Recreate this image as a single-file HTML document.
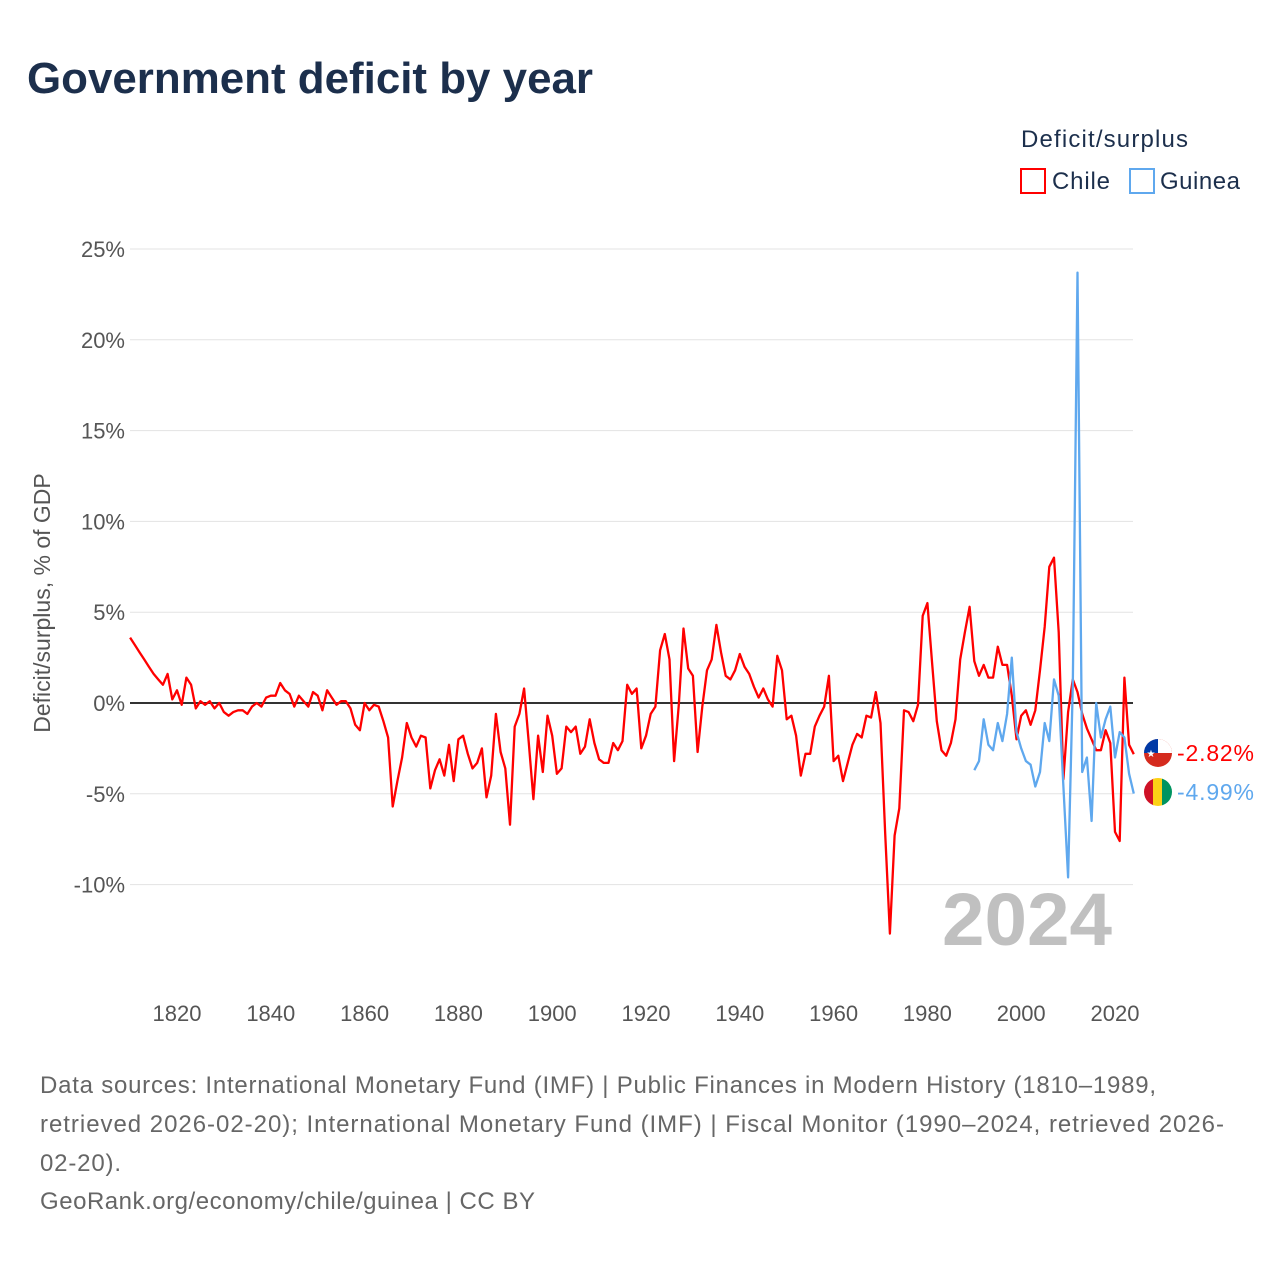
<!DOCTYPE html>
<html><head><meta charset="utf-8"><style>
body{margin:0;background:#fff;font-family:"Liberation Sans",sans-serif;}
svg text{font-family:"Liberation Sans",sans-serif;}
</style></head><body>
<svg id="chart" width="1280" height="1280" viewBox="0 0 1280 1280" xmlns="http://www.w3.org/2000/svg">
<text x="27" y="93" font-size="44" font-weight="bold" fill="#1c2f4c" textLength="566" lengthAdjust="spacingAndGlyphs">Government deficit by year</text>
<text x="1021" y="147" font-size="24" fill="#1c2f4c" textLength="167">Deficit/surplus</text>
<g><rect x="1021" y="169" width="24" height="24" fill="none" stroke="#f00" stroke-width="2"/><text x="1052" y="189" font-size="24" fill="#1c2f4c" textLength="58">Chile</text></g>
<g><rect x="1130" y="169" width="24" height="24" fill="none" stroke="#5fa8ee" stroke-width="2"/><text x="1160" y="189" font-size="24" fill="#1c2f4c" textLength="80">Guinea</text></g>
<text transform="translate(50,603) rotate(-90)" text-anchor="middle" font-size="23" fill="#555">Deficit/surplus, % of GDP</text>
<g id="grid"></g><g id="xt"></g>
<text x="1112" y="945" text-anchor="end" font-size="74" font-weight="bold" fill="#c0c0c0" textLength="170" lengthAdjust="spacingAndGlyphs">2024</text>
<g id="series"></g>
<g>
<circle cx="1158" cy="753" r="14" fill="#d52b1e"/><path d="M1144 753 A14 14 0 0 1 1172 753 Z" fill="#fff"/><path d="M1144 753 A14 14 0 0 1 1158 739 L1158 753 Z" fill="#0039a6"/><text x="1151" y="757" font-size="10" fill="#fff" text-anchor="middle">★</text>
<text x="1177" y="761" font-size="23" fill="#f00" textLength="77">-2.82%</text></g>
<g>
<clipPath id="gc"><circle cx="1158" cy="792" r="14"/></clipPath>
<g clip-path="url(#gc)"><rect x="1144" y="778" width="10" height="28" fill="#ce1126"/><rect x="1153" y="778" width="10" height="28" fill="#fcd116"/><rect x="1162" y="778" width="10" height="28" fill="#009460"/></g>
<text x="1177" y="800" font-size="23" fill="#5fa8ee" textLength="77">-4.99%</text></g>
<g font-size="24" fill="#666">
<text x="40" y="1093" textLength="1116">Data sources: International Monetary Fund (IMF) | Public Finances in Modern History (1810–1989,</text>
<text x="40" y="1132" textLength="1184">retrieved 2026-02-20); International Monetary Fund (IMF) | Fiscal Monitor (1990–2024, retrieved 2026-</text>
<text x="40" y="1171" textLength="81">02-20).</text>
<text x="40" y="1209" textLength="495">GeoRank.org/economy/chile/guinea | CC BY</text>
</g>
</svg>
<script>
const yTicks=[-10,-5,0,5,10,15,20,25];
const yTickLabels=["-10%","-5%","0%","5%","10%","15%","20%","25%"];
const xTicks=[1820,1840,1860,1880,1900,1920,1940,1960,1980,2000,2020];
const chileStart=1810;
const chileValues=[3.6,3.2,2.8,2.4,2.0,1.6,1.3,1.0,1.6,0.2,0.7,-0.1,1.4,1.0,-0.3,0.1,-0.1,0.1,-0.3,0,-0.5,-0.7,-0.5,-0.4,-0.4,-0.6,-0.2,0,-0.2,0.3,0.4,0.4,1.1,0.7,0.5,-0.2,0.4,0.1,-0.2,0.6,0.4,-0.4,0.7,0.3,-0.1,0.1,0.1,-0.3,-1.2,-1.5,0,-0.4,-0.1,-0.2,-1.0,-1.9,-5.7,-4.3,-3.0,-1.1,-1.9,-2.4,-1.8,-1.9,-4.7,-3.7,-3.1,-4.0,-2.3,-4.3,-2.0,-1.8,-2.8,-3.6,-3.3,-2.5,-5.2,-4.0,-0.6,-2.7,-3.6,-6.7,-1.3,-0.6,0.8,-2.2,-5.3,-1.8,-3.8,-0.7,-1.8,-3.9,-3.6,-1.3,-1.6,-1.3,-2.8,-2.4,-0.9,-2.2,-3.1,-3.3,-3.3,-2.2,-2.6,-2.1,1.0,0.5,0.8,-2.5,-1.8,-0.6,-0.2,2.9,3.8,2.4,-3.2,-0.1,4.1,1.9,1.5,-2.7,-0.2,1.8,2.4,4.3,2.8,1.5,1.3,1.8,2.7,2.0,1.6,0.9,0.3,0.8,0.2,-0.2,2.6,1.8,-0.9,-0.7,-1.8,-4.0,-2.8,-2.8,-1.3,-0.7,-0.2,1.5,-3.2,-2.9,-4.3,-3.3,-2.3,-1.7,-1.9,-0.7,-0.8,0.6,-1.1,-7.2,-12.7,-7.3,-5.8,-0.4,-0.5,-1.0,-0.1,4.8,5.5,2.2,-1.0,-2.6,-2.9,-2.2,-0.9,2.4,3.9,5.3,2.3,1.5,2.1,1.4,1.4,3.1,2.1,2.1,0.4,-2.0,-0.7,-0.4,-1.2,-0.4,1.8,4.2,7.5,8.0,3.9,-4.2,-0.5,1.3,0.6,-0.6,-1.4,-2.0,-2.6,-2.6,-1.5,-2.2,-7.1,-7.6,1.4,-2.3,-2.82];
const guineaStart=1990;
const guineaValues=[-3.7,-3.2,-0.9,-2.3,-2.6,-1.1,-2.1,-0.6,2.5,-1.6,-2.5,-3.2,-3.4,-4.6,-3.8,-1.1,-2.1,1.3,0.4,-4.6,-9.6,1.0,23.7,-3.8,-3.0,-6.5,0,-1.9,-0.9,-0.2,-3.0,-1.6,-1.9,-3.9,-4.99];
const NS="http://www.w3.org/2000/svg";
const X=yr=>177+(yr-1820)*4.69;
const Y=v=>703-v*18.16;
const grid=document.getElementById('grid');
yTicks.forEach((t,i)=>{
 const l=document.createElementNS(NS,'line');
 
 
 l.setAttribute('x1',130);l.setAttribute('x2',1133);l.setAttribute('y1',Y(t));l.setAttribute('y2',Y(t));
 l.setAttribute('stroke',t===0?'#333':'#e3e3e3');l.setAttribute('stroke-width',t===0?2:1);
 grid.appendChild(l);
 const tx=document.createElementNS(NS,'text');
 
 
 tx.setAttribute('x',125);tx.setAttribute('y',Y(t)+8);tx.setAttribute('text-anchor','end');
 tx.setAttribute('font-size','22');tx.setAttribute('fill','#555');tx.textContent=yTickLabels[i];
 grid.appendChild(tx);
});
const xt=document.getElementById('xt');
xTicks.forEach(t=>{
 const tx=document.createElementNS(NS,'text');
 
 
 tx.setAttribute('x',X(t));tx.setAttribute('y',1021);tx.setAttribute('text-anchor','middle');
 tx.setAttribute('font-size','22');tx.setAttribute('fill','#555');tx.textContent=t;
 xt.appendChild(tx);
});
const ser=document.getElementById('series');
function line(start,vals,color,name){
 const p=document.createElementNS(NS,'path');
 
 
 p.setAttribute('d',vals.map((v,i)=>(i?'L':'M')+X(start+i).toFixed(1)+' '+Y(v).toFixed(1)).join(''));
 p.setAttribute('fill','none');p.setAttribute('stroke',color);p.setAttribute('stroke-width','2.3');p.setAttribute('stroke-linejoin','round');
 ser.appendChild(p);
}
line(chileStart,chileValues,'#f00','chile-line');
line(guineaStart,guineaValues,'#5fa8ee','guinea-line');
</script>
</body></html>
